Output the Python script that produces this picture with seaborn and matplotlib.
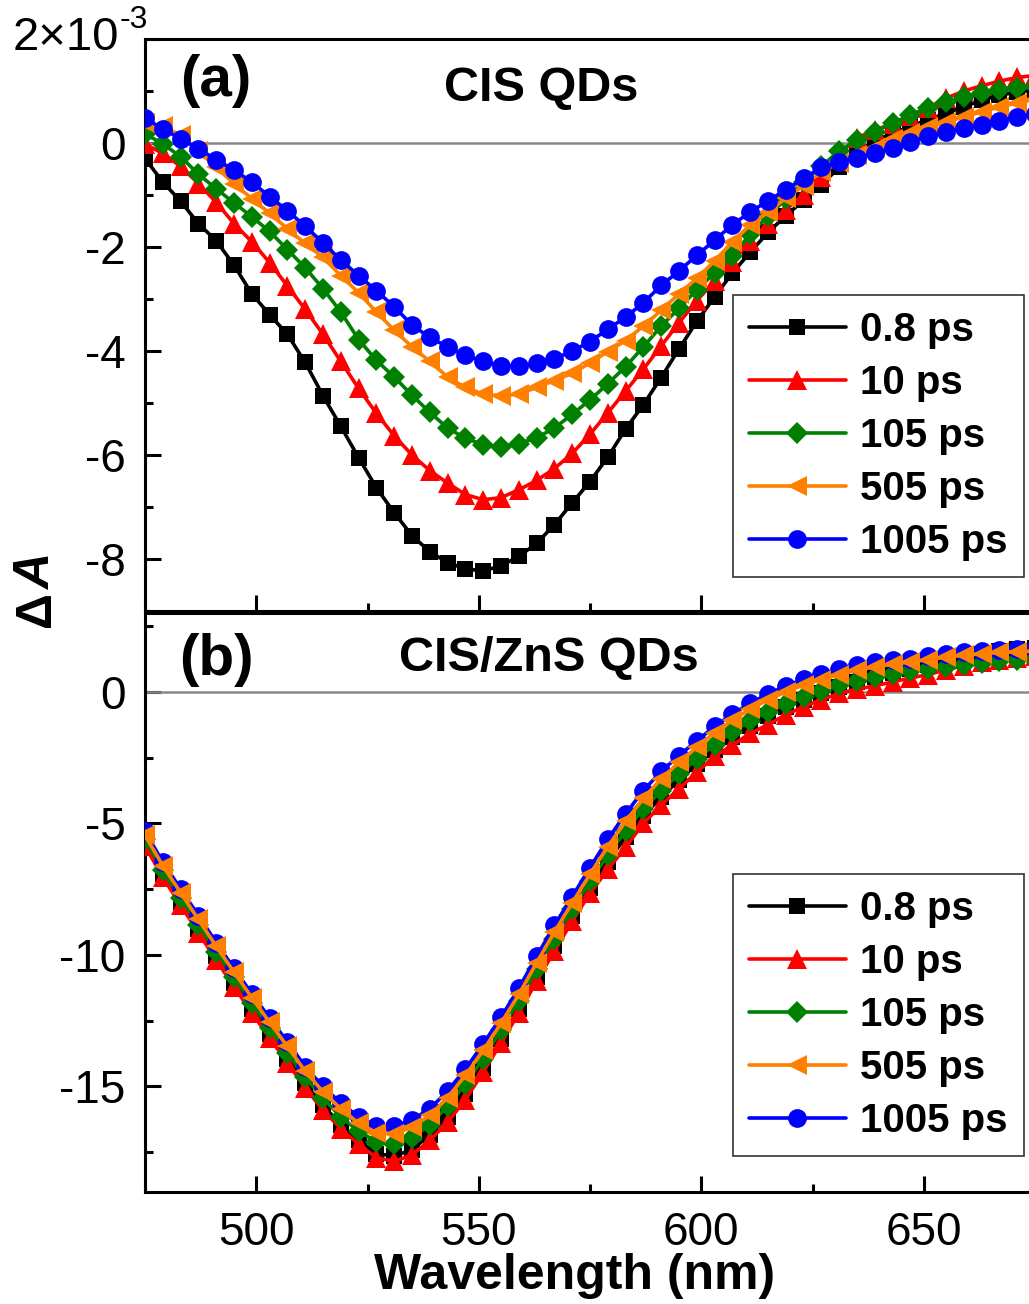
import numpy as np
import pandas as pd
import matplotlib
matplotlib.use("Agg")
import matplotlib.pyplot as plt
import seaborn as sns
from matplotlib.ticker import MultipleLocator, FixedLocator
from matplotlib.font_manager import FontProperties

sns.set_style("ticks")
plt.rcParams['font.family'] = ['Liberation Sans', 'DejaVu Sans']
plt.rcParams['axes.unicode_minus'] = False
for k in ('text.color', 'axes.labelcolor', 'xtick.color', 'ytick.color', 'axes.edgecolor'):
    plt.rcParams[k] = 'black'

# ---------------- data (ΔA in units of 1e-3) ----------------
wavelength = np.arange(475, 676, 4)  # nm

delays = ['0.8 ps', '10 ps', '105 ps', '505 ps', '1005 ps']

top_08 = [-0.30, -0.75, -1.12, -1.55, -1.88, -2.35, -2.90, -3.30, -3.68, -4.22,
          -4.86, -5.45, -6.05, -6.63, -7.11, -7.55, -7.86, -8.07, -8.19, -8.23,
          -8.13, -7.95, -7.70, -7.34, -6.92, -6.51, -6.04, -5.50, -5.03, -4.51,
          -3.96, -3.43, -2.96, -2.50, -2.10, -1.72, -1.40, -1.10, -0.80, -0.47,
          -0.18, 0.05, 0.18, 0.32, 0.45, 0.57, 0.70, 0.82, 0.92, 0.98, 1.02]
top_10 = [-0.02, -0.20, -0.45, -0.78, -1.14, -1.55, -1.90, -2.30, -2.75, -3.20,
          -3.68, -4.20, -4.72, -5.20, -5.63, -6.00, -6.30, -6.54, -6.76, -6.86,
          -6.82, -6.67, -6.49, -6.26, -5.97, -5.60, -5.19, -4.77, -4.35, -3.90,
          -3.46, -3.03, -2.66, -2.28, -1.88, -1.55, -1.28, -1.00, -0.66, -0.22,
          0.10, 0.25, 0.37, 0.52, 0.68, 0.86, 1.00, 1.10, 1.19, 1.26, 1.30]
top_105 = [0.18, -0.02, -0.26, -0.60, -0.88, -1.15, -1.42, -1.70, -2.05, -2.40,
           -2.80, -3.25, -3.78, -4.18, -4.50, -4.85, -5.18, -5.48, -5.68, -5.80,
           -5.85, -5.78, -5.67, -5.48, -5.22, -4.94, -4.63, -4.30, -3.92, -3.52,
           -3.18, -2.82, -2.50, -2.18, -1.75, -1.40, -1.08, -0.75, -0.45, -0.15,
           0.05, 0.22, 0.38, 0.54, 0.68, 0.78, 0.88, 0.96, 1.01, 1.06, 1.09]
top_505 = [0.38, 0.32, 0.15, -0.15, -0.47, -0.78, -1.07, -1.35, -1.65, -1.93,
           -2.20, -2.55, -2.88, -3.25, -3.60, -3.92, -4.20, -4.50, -4.70, -4.83,
           -4.86, -4.83, -4.70, -4.57, -4.43, -4.23, -4.01, -3.80, -3.52, -3.22,
           -2.90, -2.60, -2.27, -1.90, -1.58, -1.33, -1.06, -0.82, -0.56, -0.38,
           -0.24, -0.10, 0.08, 0.20, 0.30, 0.40, 0.50, 0.60, 0.69, 0.77, 0.84]
top_1005 = [0.48, 0.27, 0.08, -0.11, -0.32, -0.52, -0.75, -1.03, -1.30, -1.60,
            -1.92, -2.25, -2.55, -2.84, -3.15, -3.50, -3.74, -3.92, -4.08, -4.20,
            -4.28, -4.29, -4.24, -4.15, -4.00, -3.82, -3.58, -3.35, -3.07, -2.74,
            -2.46, -2.16, -1.87, -1.57, -1.33, -1.11, -0.90, -0.68, -0.47, -0.36,
            -0.28, -0.20, -0.10, 0.02, 0.13, 0.21, 0.28, 0.35, 0.42, 0.50, 0.56]

bot_08 = [-5.75, -6.92, -7.98, -9.02, -10.05, -11.05, -12.05, -13.00, -13.95, -14.88,
          -15.72, -16.45, -17.05, -17.55, -17.65, -17.40, -16.85, -16.15, -15.30, -14.30,
          -13.20, -12.05, -10.85, -9.67, -8.53, -7.45, -6.45, -5.52, -4.70, -4.00,
          -3.35, -2.75, -2.20, -1.72, -1.28, -0.90, -0.58, -0.30, -0.05, 0.18,
          0.38, 0.55, 0.72, 0.88, 1.03, 1.17, 1.30, 1.43, 1.55, 1.63, 1.68]
bot_10 = [-5.85, -7.05, -8.10, -9.15, -10.20, -11.20, -12.20, -13.15, -14.10, -15.05,
          -15.90, -16.60, -17.20, -17.70, -17.85, -17.60, -17.05, -16.35, -15.50, -14.45,
          -13.35, -12.20, -11.00, -9.85, -8.72, -7.65, -6.75, -5.90, -5.00, -4.30,
          -3.68, -3.05, -2.45, -2.02, -1.58, -1.24, -0.87, -0.56, -0.30, -0.06,
          0.11, 0.23, 0.38, 0.53, 0.66, 0.84, 1.00, 1.12, 1.22, 1.30, 1.36]
bot_105 = [-5.60, -6.78, -7.82, -8.85, -9.87, -10.85, -11.83, -12.78, -13.72, -14.65,
           -15.45, -16.15, -16.70, -17.10, -17.20, -16.95, -16.45, -15.75, -14.90, -13.95,
           -12.85, -11.75, -10.55, -9.38, -8.27, -7.20, -6.20, -5.27, -4.45, -3.75,
           -3.12, -2.55, -2.00, -1.52, -1.10, -0.75, -0.45, -0.18, 0.05, 0.25,
           0.43, 0.58, 0.70, 0.80, 0.88, 0.95, 1.03, 1.10, 1.17, 1.22, 1.27]
bot_505 = [-5.45, -6.60, -7.63, -8.65, -9.67, -10.65, -11.62, -12.56, -13.48, -14.42,
           -15.20, -15.85, -16.40, -16.75, -16.80, -16.55, -16.10, -15.42, -14.58, -13.63,
           -12.60, -11.50, -10.30, -9.13, -8.02, -6.93, -5.88, -4.92, -4.05, -3.30,
           -2.68, -2.10, -1.55, -1.07, -0.66, -0.30, 0.00, 0.26, 0.47, 0.66,
           0.82, 0.95, 1.05, 1.14, 1.23, 1.32, 1.39, 1.45, 1.50, 1.53, 1.55]
bot_1005 = [-5.30, -6.47, -7.49, -8.50, -9.53, -10.51, -11.47, -12.40, -13.30, -14.25,
            -15.00, -15.63, -16.15, -16.50, -16.52, -16.27, -15.85, -15.17, -14.34, -13.38,
            -12.37, -11.27, -10.05, -8.88, -7.78, -6.68, -5.60, -4.63, -3.75, -3.02,
            -2.42, -1.86, -1.31, -0.84, -0.44, -0.07, 0.22, 0.48, 0.67, 0.86,
            1.03, 1.13, 1.20, 1.26, 1.36, 1.45, 1.50, 1.56, 1.60, 1.62, 1.64]

top_series = [top_08, top_10, top_105, top_505, top_1005]
bot_series = [bot_08, bot_10, bot_105, bot_505, bot_1005]

colors = ['#000000', '#FF0000', '#008000', '#FF8000', '#0000FF']
markers = ['s', '^', 'D', '<', 'o']
msizes = [11, 14, 11, 14, 13.5]


def make_df(series):
    frames = []
    for d, vals in zip(delays, series):
        frames.append(pd.DataFrame({'wavelength': wavelength, 'dA': vals, 'delay': d}))
    return pd.concat(frames, ignore_index=True)


df_top = make_df(top_series)
df_bot = make_df(bot_series)

# ---------------- figure ----------------
W, H = 1029, 1304
fig = plt.figure(figsize=(W / 100, H / 100), dpi=100)


def px_axes(l, t, r, b):
    return fig.add_axes([l / W, 1 - b / H, (r - l) / W, (b - t) / H])


ax1 = px_axes(145, 39, 1035, 611)
ax2 = px_axes(145, 613, 1035, 1191.7)

legend_font = FontProperties(family='Liberation Sans', weight='bold', size=29)


def draw(ax, df, order):
    ax.axhline(0, color='#888888', lw=1.8, zorder=1)
    handles = {}
    for i in order:
        d = delays[i]
        sub = df[df['delay'] == d]
        sns.lineplot(data=sub, x='wavelength', y='dA', ax=ax, color=colors[i],
                     marker=markers[i], markersize=msizes[i], markeredgewidth=0,
                     linewidth=2.6, estimator=None, errorbar=None, sort=False,
                     label=d, legend=False, zorder=3)
    for ln in ax.get_lines():
        if ln.get_label() in delays:
            handles[ln.get_label()] = ln
    return [handles[d] for d in delays]


h1 = draw(ax1, df_top, [0, 1, 2, 3, 4])
h2 = draw(ax2, df_bot, [0, 1, 2, 4, 3])

for ax in (ax1, ax2):
    ax.set_xlim(475, 675)
    ax.xaxis.set_major_locator(MultipleLocator(50))
    ax.xaxis.set_minor_locator(MultipleLocator(25))
    ax.tick_params(which='major', direction='in', length=11.5, width=2.2,
                   labelsize=33, pad=14, top=False, right=False, colors='black')
    ax.tick_params(which='minor', direction='in', length=6, width=2.2,
                   top=False, right=False, colors='black')
    for s in ax.spines.values():
        s.set_linewidth(2.2)
        s.set_color('black')
    ax.set_xlabel('')
    ax.set_ylabel('')

ax1.set_ylim(-9, 2)
ax1.yaxis.set_major_locator(FixedLocator([-8, -6, -4, -2, 0, 2]))
ax1.set_yticklabels(['-8', '-6', '-4', '-2', '0', ''])
ax1.yaxis.set_minor_locator(MultipleLocator(1))
ax1.tick_params(labelbottom=False)

ax2.set_ylim(-19, 3)
ax2.yaxis.set_major_locator(FixedLocator([-15, -10, -5, 0]))
ax2.set_yticklabels(['-15', '-10', '-5', '0'])
ax2.yaxis.set_minor_locator(MultipleLocator(2.5))
ax2.set_xticks([500, 550, 600, 650])
ax2.set_xticklabels(['500', '550', '600', '650'])

# legends
for ax, hs, yfrac in ((ax1, h1, 0.5524), (ax2, h2, 0.549)):
    leg = ax.legend(hs, delays, loc='upper left', bbox_to_anchor=(0.6607, yfrac),
                    borderaxespad=0, frameon=True, fancybox=False, edgecolor='#333333',
                    framealpha=1, prop=legend_font, handlelength=2.4, handletextpad=0.35,
                    labelspacing=0.37, borderpad=0.4, numpoints=1)
    leg.get_frame().set_linewidth(1.2)
    for t in leg.get_texts():
        t.set_color('black')

# panel labels and titles
fig.text(216 / W, 1 - 81 / H, '(a)', fontsize=42, fontweight='bold', ha='center', va='center')
fig.text(541 / W, 1 - 88 / H, 'CIS QDs', fontsize=35, fontweight='bold', ha='center', va='center')
fig.text(216 / W, 1 - 660 / H, '(b)', fontsize=42, fontweight='bold', ha='center', va='center')
fig.text(549 / W, 1 - 659 / H, 'CIS/ZnS QDs', fontsize=35, fontweight='bold', ha='center', va='center')

# y-axis multiplier label
fig.text(119 / W, 1 - 38 / H, '2×10', fontsize=34, ha='right', va='center')
fig.text(120 / W, 1 - 20 / H, '-3', fontsize=23, ha='left', va='center')

# axis labels
fig.text(575 / W, 1 - 1276 / H, 'Wavelength (nm)', fontsize=36, fontweight='bold',
         ha='center', va='center')
fig.text(37 / W, 1 - 609 / H, 'Δ', fontsize=36, fontweight='bold', rotation=90,
         ha='center', va='center')
fig.text(37 / W, 1 - 572 / H, 'A', fontsize=36, fontweight='bold', style='italic',
         rotation=90, ha='center', va='center')

fig.savefig('out.png', dpi=100)
